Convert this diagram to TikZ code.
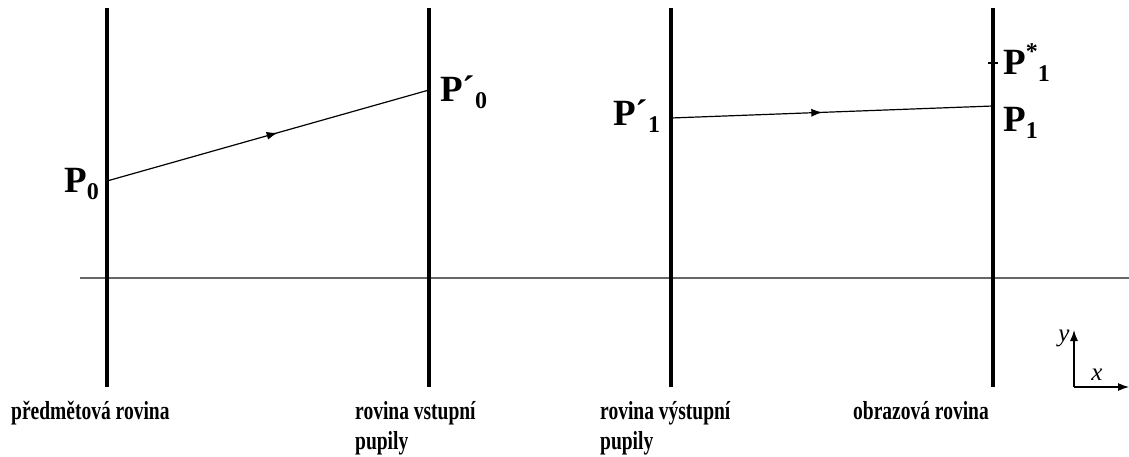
\documentclass[tikz,border=0pt]{standalone}
\usepackage{fontspec}
\setmainfont{Liberation Serif}
\newfontfamily\capfam{Liberation Serif}[FakeStretch=0.75]
\usetikzlibrary{arrows.meta,decorations.markings}
\newcommand\bigP{\fontsize{37}{37}\selectfont\bfseries}
\newcommand\capfont{\capfam\fontsize{26}{30}\selectfont\bfseries}
\newcommand\axfont{\fontsize{25}{25}\selectfont\itshape}
\newcommand\subP[1]{\raisebox{-7pt}{\fontsize{24}{24}\selectfont\bfseries #1}}
\newcommand\supP[1]{\raisebox{15pt}{\fontsize{24}{24}\selectfont\bfseries #1}}
\tikzset{
  plane/.style={line width=3.5pt,black},
  optaxis/.style={line width=1.5pt,black!60},
  ray/.style={line width=1.2pt,postaction={decorate},
    decoration={markings,mark=at position #1 with {\arrow{Latex[length=11pt,width=8pt]}}}},
  plabel/.style={anchor=base west,inner sep=0pt,font=\bigP},
  caption/.style={anchor=base west,inner sep=0pt,font=\capfont},
  coordaxis/.style={line width=1.2pt,-{Latex[length=11pt,width=8pt]}},
  axlabel/.style={inner sep=0pt,font=\axfont}
}
\begin{document}
\begin{tikzpicture}[x=1pt,y=-1pt]
\useasboundingbox (0,0) rectangle (1129,457);
% planes
\coordinate (A1) at (107,8);   \coordinate (A2) at (107,387);
\coordinate (B1) at (429,8);   \coordinate (B2) at (429,387);
\coordinate (C1) at (671,8);   \coordinate (C2) at (671,387);
\coordinate (D1) at (993,8);   \coordinate (D2) at (993,387);
\coordinate (L) at (80,278);   \coordinate (R) at (1129,278);
\draw[optaxis] (L) -- (R);
\draw[plane] (A1) -- (A2);
\draw[plane] (B1) -- (B2);
\draw[plane] (C1) -- (C2);
\draw[plane] (D1) -- (D2);
% ray points
\coordinate (P0) at (107,181);
\coordinate (P0p) at (429,90);
\coordinate (P1p) at (671,118);
\coordinate (P1) at (993,106);
\coordinate (Ps) at (993,63);
\coordinate (PsL) at (988,63);
\coordinate (PsR) at (998,63);
\draw[ray=0.53] (P0) -- (P0p);
\draw[ray=0.47] (P1p) -- (P1);
\draw[line width=1.2pt] (PsL) -- (PsR);
% point labels
\node[plabel] (lP0) at (64,193) {P\subP{0}};
\node[plabel] (lP0p) at (440,102) {P´\subP{0}};
\node[plabel] (lP1p) at (613,126) {P´\subP{1}};
\node[plabel] (lP1) at (1003,132) {P\subP{1}};
\node[plabel] (lPs) at (1003,75) {P\supP{*}\subP{1}};
% captions
\node[caption] (c1) at (11,419) {předmětová rovina};
\node[caption] (c2) at (355,419) {\vtop{\baselineskip=30pt\hbox{rovina vstupní}\hbox{pupily}}};
\node[caption] (c3) at (600,419) {\vtop{\baselineskip=30pt\hbox{rovina výstupní}\hbox{pupily}}};
\node[caption] (c4) at (853,419) {obrazová rovina};
% coordinate axes
\coordinate (O) at (1074,387);
\coordinate (Oy) at (1074,330);
\coordinate (Ox) at (1129,387);
\draw[coordaxis] (O) -- (Oy);
\draw[coordaxis] (O) -- (Ox);
\node[axlabel,anchor=base] (ly) at (1064,341) {y};
\node[axlabel,anchor=base] (lx) at (1097,380) {x};
\end{tikzpicture}
\end{document}
